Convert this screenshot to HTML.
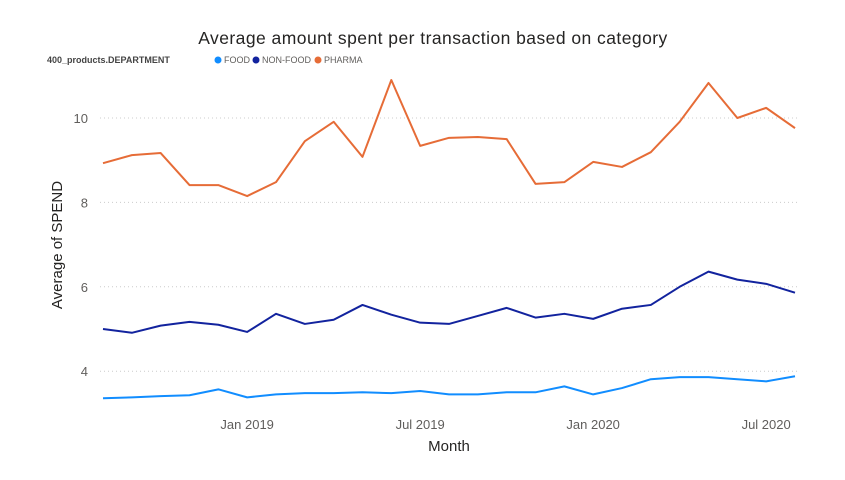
<!DOCTYPE html>
<html><head><meta charset="utf-8"><style>
body{margin:0;background:#fff;width:845px;height:475px;overflow:hidden;font-family:"Liberation Sans",sans-serif}
</style></head><body>
<svg id="chart" width="845" height="475">
<text x="433" y="44" text-anchor="middle" font-size="17.5" letter-spacing="0.45" fill="#252423">Average amount spent per transaction based on category</text>
<g font-size="9" fill="#605E5C">
<text x="47" y="63" font-weight="bold" fill="#444">400_products.DEPARTMENT</text>
<g><circle cx="218" cy="60" r="3.5" fill="#118DFF"/><text x="224" y="63">FOOD</text></g>
<g><circle cx="256" cy="60" r="3.5" fill="#12239E"/><text x="262" y="63">NON-FOOD</text></g>
<g><circle cx="318" cy="60" r="3.5" fill="#E66C37"/><text x="324" y="63">PHARMA</text></g>
</g>
<text transform="translate(62,245) rotate(-90)" text-anchor="middle" font-size="15" fill="#252423">Average of SPEND</text>
<text x="449" y="451" text-anchor="middle" font-size="15" fill="#252423">Month</text>
<g id="grid"></g><g id="lines"></g><g id="ticks"></g>
</svg>
<script>
const months=25;
const yTicks=[4,6,8,10];
const xTickIdx=[5,11,17,23];
const xTickLabels=["Jan 2019","Jul 2019","Jan 2020","Jul 2020"];
const food=[3.36,3.38,3.41,3.43,3.57,3.38,3.45,3.48,3.48,3.50,3.48,3.53,3.45,3.45,3.50,3.50,3.64,3.45,3.60,3.81,3.86,3.86,3.81,3.76,3.88];
const nonFood=[5.0,4.91,5.08,5.17,5.10,4.93,5.36,5.12,5.22,5.57,5.34,5.15,5.12,5.31,5.50,5.27,5.36,5.24,5.48,5.57,6.0,6.36,6.17,6.07,5.86];
const pharma=[8.93,9.12,9.17,8.41,8.41,8.15,8.48,9.45,9.91,9.08,10.9,9.34,9.53,9.55,9.50,8.44,8.48,8.96,8.84,9.19,9.91,10.83,10.0,10.24,9.76];
const NS="http://www.w3.org/2000/svg";
const x=i=>103+i*(795-103)/(months-1);
const y=v=>118+(10-v)*42.2;
const grid=document.getElementById('grid'),ticks=document.getElementById('ticks'),lines=document.getElementById('lines');
yTicks.forEach(t=>{
 const l=document.createElementNS(NS,'line');
 
 
 l.setAttribute('x1',100);l.setAttribute('x2',800);l.setAttribute('y1',y(t));l.setAttribute('y2',y(t));
 l.setAttribute('stroke','#ccc');l.setAttribute('stroke-dasharray','1,3');grid.appendChild(l);
 const tx=document.createElementNS(NS,'text');
 
 
 tx.setAttribute('x',88);tx.setAttribute('y',y(t)+5);tx.setAttribute('text-anchor','end');
 tx.setAttribute('font-size','13');tx.setAttribute('fill','#605E5C');tx.textContent=t;ticks.appendChild(tx);
});
xTickIdx.forEach((i,k)=>{
 const tx=document.createElementNS(NS,'text');
 
 
 tx.setAttribute('x',x(i));tx.setAttribute('y',429);tx.setAttribute('text-anchor','middle');
 tx.setAttribute('font-size','13');tx.setAttribute('fill','#605E5C');tx.textContent=xTickLabels[k];ticks.appendChild(tx);
});
[[food,'#118DFF','line-food'],[nonFood,'#12239E','line-non-food'],[pharma,'#E66C37','line-pharma']].forEach(([d,c,n])=>{
 const p=document.createElementNS(NS,'polyline');
 
 
 p.setAttribute('points',d.map((v,i)=>x(i)+','+y(v)).join(' '));
 p.setAttribute('fill','none');p.setAttribute('stroke',c);p.setAttribute('stroke-width','2');
 p.setAttribute('stroke-linejoin','round');lines.appendChild(p);
});
</script>
</body></html>
